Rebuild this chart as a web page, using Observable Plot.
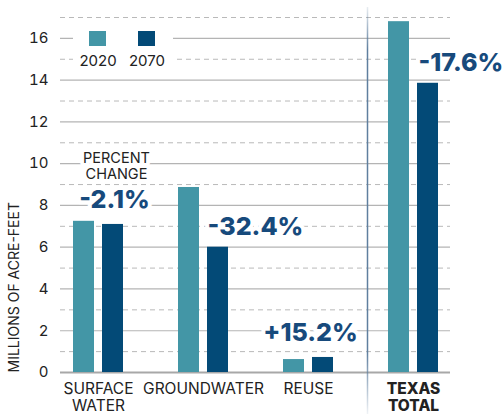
<!DOCTYPE html>
<html><head><meta charset="utf-8">
<script src="https://cdn.jsdelivr.net/npm/d3@7"></script>
<script src="https://cdn.jsdelivr.net/npm/@observablehq/plot@0.6"></script>
<style>
body{margin:0;background:#fff;font-family:Inter, "Open Sans", sans-serif;}
#wrap{position:relative;width:504px;height:414px;overflow:hidden;}
#legend{position:absolute;left:73px;top:25px;width:100px;height:46px;background:#fff;}
#legend .sw{position:absolute;top:6px;width:17px;height:15px;}
#legend .lb{position:absolute;top:27px;width:50px;text-align:center;font-size:15px;color:#222;line-height:18px;}
</style></head><body><div id="wrap"></div>
<script>
const categories = ["SURFACE WATER", "GROUNDWATER", "REUSE", "TEXAS TOTAL"];
const categoryLabels = ["SURFACE\nWATER", "GROUNDWATER", "REUSE", "TEXAS\nTOTAL"];
const years = ["2020", "2070"];
const values2020 = [7.24, 8.86, 0.62, 16.8];
const values2070 = [7.09, 6.0, 0.72, 13.85];
const percentChange = ["-2.1%", "-32.4%", "+15.2%", "-17.6%"];
const solidTicks = [0, 2, 4, 6, 8, 10, 12, 14, 16];
const dashedTicks = [1, 3, 5, 7, 9, 11, 13, 15, 17];
const yTitle = "MILLIONS OF ACRE-FEET";
const percentTitle = "PERCENT\nCHANGE";

const colors = ["#4396a6", "#034a77"];
const rows = categories.flatMap((c, i) => [
  {category: c, year: years[0], value: values2020[i]},
  {category: c, year: years[1], value: values2070[i]}
]);
const pct = categories.map((c, i) => ({category: c, value: values2070[i], text: percentChange[i]}));
const labelRows = categories.map((c, i) => ({category: c, text: categoryLabels[i]}));

const pctStyle = {x: "category", y: "value", text: "text", fontSize: 25, fontWeight: 800,
  fill: "#174a7c", stroke: "white", strokeWidth: 8};

const chart = Plot.plot({
  width: 504, height: 414,
  marginLeft: 60, marginRight: 54, marginTop: 17, marginBottom: 42,
  style: {fontFamily: "Inter, 'Open Sans', sans-serif", color: "#222", background: "white"},
  x: {type: "band", domain: categories, paddingInner: 0.524, paddingOuter: 0.112, axis: null},
  y: {domain: [0, 17], axis: null},
  color: {domain: years, range: colors},
  marks: [
    Plot.ruleY(dashedTicks, {stroke: "#b9b9b9", strokeDasharray: "5,4", strokeWidth: 1}),
    Plot.ruleY(solidTicks.filter(d => d > 0), {stroke: "#b4b4b4", strokeWidth: 1.2}),
    Plot.ruleY([0], {stroke: "#a8a8a8", strokeWidth: 2}),
    Plot.axisY(solidTicks, {tickSize: 0, tickPadding: 12, fontSize: 15, label: null}),
    Plot.text([yTitle], {frameAnchor: "bottom-left", rotate: -90, textAnchor: "start", dx: -42, fontSize: 14, fill: "#222"}),
    Plot.ruleX(["TEXAS TOTAL"], {x: d => d, dx: -46, stroke: "url(#sepGrad)", strokeWidth: 1.5, insetTop: -10, insetBottom: -42}),
    Plot.text(pct.filter(d => d.category === "SURFACE WATER"), {...pctStyle, dx: 16, dy: -24}),
    Plot.text(pct.filter(d => d.category === "SURFACE WATER"), {x: "category", y: "value", text: () => percentTitle, fontSize: 14.5, fill: "#222", lineHeight: 1.12, dx: 18, dy: -59, stroke: "white", strokeWidth: 8}),
    Plot.text(pct.filter(d => d.category === "GROUNDWATER"), {...pctStyle, textAnchor: "start", dx: 4, dy: -20}),
    Plot.text(pct.filter(d => d.category === "REUSE"), {...pctStyle, dx: 2, dy: -24}),
    Plot.text(pct.filter(d => d.category === "TEXAS TOTAL"), {...pctStyle, textAnchor: "start", dx: 5, dy: -20, strokeWidth: 6}),
    Plot.barY(rows.filter(d => d.year === years[0]), {x: "category", y: "value", fill: "year", insetRight: 29}),
    Plot.barY(rows.filter(d => d.year === years[1]), {x: "category", y: "value", fill: "year", insetLeft: 29}),
    Plot.text(labelRows.filter(d => d.category !== "TEXAS TOTAL"), {x: "category", text: "text", frameAnchor: "bottom", lineAnchor: "top", dy: 10, fontSize: 15.5, lineHeight: 1.08, fill: "#222"}),
    Plot.text(labelRows.filter(d => d.category === "TEXAS TOTAL"), {x: "category", text: "text", frameAnchor: "bottom", lineAnchor: "top", dy: 10, fontSize: 15.5, fontWeight: 800, lineHeight: 1.08, fill: "#222"})
  ]
});

const svg = d3.select(chart);
const defs = svg.insert("defs", ":first-child");
const g = defs.append("linearGradient").attr("id", "sepGrad").attr("gradientUnits", "userSpaceOnUse")
  .attr("x1", 0).attr("x2", 0).attr("y1", 0).attr("y2", 414);
g.append("stop").attr("offset", "0%").attr("stop-color", "#5f7f9f").attr("stop-opacity", 0);
g.append("stop").attr("offset", "12%").attr("stop-color", "#5f7f9f").attr("stop-opacity", 1);
g.append("stop").attr("offset", "85%").attr("stop-color", "#5f7f9f").attr("stop-opacity", 1);
g.append("stop").attr("offset", "100%").attr("stop-color", "#5f7f9f").attr("stop-opacity", 0.1);

const wrap = document.getElementById("wrap");
wrap.appendChild(chart);
const legend = document.createElement("div");
legend.id = "legend";
years.forEach((y, i) => {
  const sw = document.createElement("div");
  sw.className = "sw";
  sw.style.left = (16 + i * 49) + "px";
  sw.style.background = colors[i];
  const lb = document.createElement("div");
  lb.className = "lb";
  lb.style.left = (0 + i * 49) + "px";
  lb.textContent = y;
  legend.appendChild(sw);
  legend.appendChild(lb);
});
wrap.appendChild(legend);
</script></body></html>
